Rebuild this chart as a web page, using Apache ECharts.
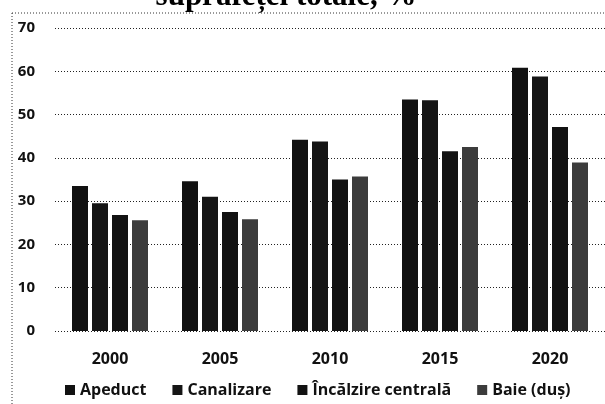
<!DOCTYPE html>
<html><head><meta charset="utf-8">
<script src="https://cdn.jsdelivr.net/npm/echarts@6/dist/echarts.min.js"></script>
<style>html,body{margin:0;padding:0;background:#fff}#c{width:605px;height:404px}</style>
</head><body><div id="c"></div>
<script>
const years = ['2000','2005','2010','2015','2020'];
const seriesNames = ['Apeduct','Canalizare','Încălzire centrală','Baie (duș)'];
const apeduct = [33.5, 34.6, 44.2, 53.5, 60.8];
const canalizare = [29.5, 31.0, 43.8, 53.3, 58.8];
const incalzire = [26.8, 27.5, 35.0, 41.5, 47.1];
const baie = [25.6, 25.8, 35.7, 42.5, 38.9];
const yTicks = [0,10,20,30,40,50,60,70];
const titleText = 'suprafeței totale, %';

const colors = ['#111111','#151515','#121212','#3c3c3c'];
const values = [apeduct, canalizare, incalzire, baie];
const font = '"Open Sans", "Liberation Sans", sans-serif';

const chart = echarts.init(document.getElementById('c'), null, {renderer:'canvas'});
chart.setOption({
  animation:false,
  backgroundColor:'#fff',
  color: colors,
  grid:{left:55, right:0, top:28, bottom:73, outerBoundsMode:'none'},
  legend:{
    top:382, left:65, itemWidth:10, itemHeight:10, itemGap:26,
    padding:0,
    icon:'rect',
    textStyle:{fontFamily:font, fontSize:16, color:'#111', fontWeight:'bold', padding:[0,0,0,0]},
    data: seriesNames
  },
  xAxis:{
    type:'category', data:years,
    axisLine:{show:false}, axisTick:{show:false},
    axisLabel:{margin:20, fontFamily:font, fontSize:16, fontWeight:'bold', color:'#111'}
  },
  yAxis:{
    type:'value', min:yTicks[0], max:yTicks[yTicks.length-1], interval:10,
    axisLine:{show:false}, axisTick:{show:false},
    axisLabel:{margin:20, fontFamily:font, fontSize:15, fontWeight:'bold', color:'#111', align:'right'},
    splitLine:{lineStyle:{color:'#222', type:[1,2], width:1}}
  },
  graphic:[
    {type:'line', shape:{x1:12,y1:13,x2:605,y2:13}, style:{stroke:'#333', lineDash:[1,2], lineWidth:1}},
    {type:'line', shape:{x1:12,y1:13,x2:12,y2:404}, style:{stroke:'#333', lineDash:[1,2], lineWidth:1}}
  ],
  series: seriesNames.map((n,i)=>({
    name:n, type:'bar', data:values[i],
    barWidth:16, barGap:'25%', barCategoryGap:'31%',
    itemStyle:{color:colors[i]}
  }))
});
// Title partly cut off at the top, drawn directly on the zrender layer
const titleEl = new echarts.graphic.Text({
  style:{text:titleText, x:286, y:-19, fill:'#000',
    font:'bold 31px "Liberation Serif", serif', align:'center', verticalAlign:'top'},
  z:100
});
chart.getZr().add(titleEl);
</script></body></html>
